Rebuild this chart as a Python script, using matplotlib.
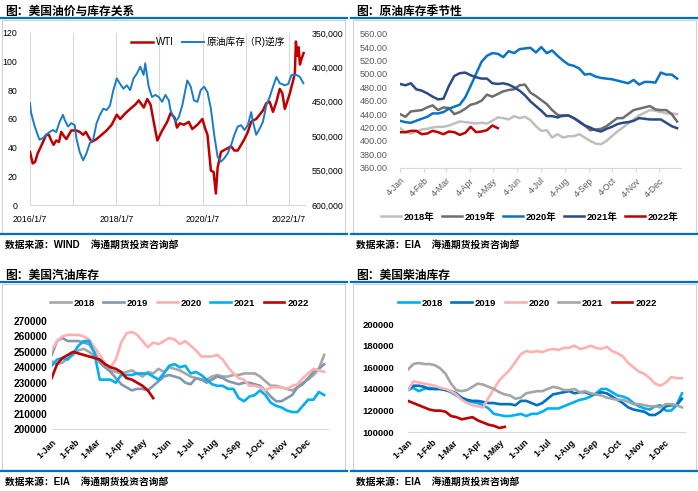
import matplotlib
matplotlib.use("Agg")
import matplotlib.pyplot as plt
from matplotlib.lines import Line2D
from matplotlib.patches import Rectangle
import numpy as np
import pandas as pd

plt.rcParams['font.family'] = ['Liberation Sans', 'Noto Sans CJK SC']
plt.rcParams['axes.unicode_minus'] = False

# ---------------- data ----------------
# 图1: WTI (美元/桶) 与 原油库存 (千桶)
wti_dates = ['2016-01-07', '2016-01-30', '2016-02-19', '2016-03-12', '2016-04-10', '2016-05-23',
             '2016-06-15', '2016-07-05', '2016-07-25', '2016-08-16', '2016-09-08', '2016-09-28',
             '2016-10-21', '2016-11-10', '2016-12-22', '2017-02-03', '2017-03-03', '2017-04-01',
             '2017-04-24', '2017-05-14', '2017-06-12', '2017-07-24', '2017-09-05', '2017-10-17',
             '2017-11-29', '2018-01-11', '2018-02-09', '2018-03-25', '2018-05-04', '2018-06-16',
             '2018-07-16', '2018-08-28', '2018-09-26', '2018-10-24', '2018-11-22', '2018-12-20',
             '2019-01-31', '2019-03-14', '2019-04-11', '2019-05-15', '2019-06-05', '2019-06-28',
             '2019-08-02', '2019-09-13', '2019-10-12', '2019-11-25', '2020-01-06', '2020-01-27',
             '2020-02-18', '2020-03-18', '2020-04-10', '2020-04-29', '2020-05-14', '2020-06-11',
             '2020-07-24', '2020-09-05', '2020-10-03', '2020-10-31', '2020-11-29', '2020-12-27',
             '2021-01-25', '2021-02-22', '2021-03-09', '2021-04-06', '2021-05-05', '2021-06-02',
             '2021-06-30', '2021-07-29', '2021-08-26', '2021-09-24', '2021-10-22', '2021-11-13',
             '2021-12-04', '2021-12-24', '2022-01-16', '2022-02-13', '2022-02-27', '2022-03-08',
             '2022-03-20', '2022-03-31', '2022-04-11', '2022-04-25', '2022-05-12']
wti = [37, 29, 30, 36, 41, 49, 49, 45, 42, 45, 44, 51, 48, 46, 52, 52, 51, 49, 51, 48, 44, 46,
       49, 52, 56, 63, 60, 64, 67, 70, 73, 68, 74, 70, 57, 45, 52, 58, 64, 61, 54, 57, 56, 58,
       53, 56, 60, 54, 49, 24, 23, 8, 26, 37, 39, 41, 38, 38, 42, 46, 51, 58, 59, 60, 63, 66,
       71, 72, 65, 72, 81, 78, 67, 72, 78, 87, 92, 114, 104, 110, 98, 102, 106]

inv_dates = ['2016-01-07', '2016-01-15', '2016-02-13', '2016-03-12', '2016-03-27', '2016-04-24',
             '2016-05-23', '2016-06-20', '2016-07-19', '2016-08-16', '2016-09-14', '2016-10-12',
             '2016-10-26', '2016-11-24', '2016-12-22', '2017-01-20', '2017-02-03', '2017-03-03',
             '2017-04-01', '2017-04-29', '2017-05-28', '2017-06-25', '2017-07-24', '2017-08-21',
             '2017-09-19', '2017-10-17', '2017-11-15', '2017-12-13', '2018-01-11', '2018-02-08',
             '2018-03-08', '2018-04-06', '2018-05-04', '2018-06-02', '2018-06-30', '2018-07-29',
             '2018-08-26', '2018-09-09', '2018-10-08', '2018-11-05', '2018-12-04', '2019-01-01',
             '2019-01-30', '2019-02-27', '2019-03-28', '2019-04-11', '2019-05-24', '2019-06-21',
             '2019-07-20', '2019-08-31', '2019-09-29', '2019-10-27', '2019-11-25', '2019-12-23',
             '2020-01-21', '2020-02-18', '2020-03-18', '2020-04-15', '2020-05-14', '2020-06-11',
             '2020-07-10', '2020-08-07', '2020-09-05', '2020-10-03', '2020-10-31', '2020-11-29',
             '2020-12-27', '2021-01-25', '2021-02-22', '2021-03-09', '2021-04-06', '2021-05-05',
             '2021-06-02', '2021-06-30', '2021-07-29', '2021-08-26', '2021-09-24', '2021-10-22',
             '2021-12-04', '2022-01-02', '2022-01-30', '2022-03-14', '2022-04-11', '2022-05-10']
inv_k = [452, 465, 484, 498, 505, 503, 498, 494, 491, 494, 479, 469, 476, 486, 481, 484, 503,
         523, 535, 525, 510, 505, 481, 469, 460, 462, 455, 433, 416, 424, 431, 426, 433, 416,
         409, 399, 411, 394, 428, 443, 440, 443, 450, 440, 448, 462, 479, 472, 455, 419, 428,
         448, 450, 433, 428, 436, 460, 498, 530, 537, 532, 525, 513, 498, 486, 484, 491, 484,
         465, 479, 498, 489, 479, 455, 443, 428, 414, 423, 426, 424, 411, 411, 414, 423]

# 图2: 原油库存季节性 (百万桶), 每周一个点, 从 1月4日 起
crude_labels = ['2018年', '2019年', '2020年', '2021年', '2022年']
crude_2018 = [419, 413, 411, 414, 417, 418, 420, 421, 421, 423, 426, 429, 428, 427, 426, 427, 426,
              430, 435, 434, 432, 437, 434, 436, 431, 422, 415, 416, 405, 410, 405, 407, 407, 410,
              405, 400, 396, 395, 400, 407, 414, 420, 426, 432, 438, 442, 446, 445, 443, 441, 441, 440]
crude_2019 = [440, 436, 444, 445, 446, 450, 453, 446, 450, 449, 440, 443, 448, 454, 456, 460, 469,
              466, 470, 474, 476, 477, 483, 484, 472, 467, 461, 455, 446, 439, 437, 438, 434, 428,
              423, 416, 417, 418, 422, 428, 434, 434, 440, 446, 448, 450, 452, 447, 446, 446, 440, 429]
crude_2020 = [430, 428, 427, 430, 433, 436, 441, 441, 443, 448, 451, 454, 465, 482, 500, 518, 527,
              531, 530, 525, 534, 531, 537, 538, 539, 532, 540, 531, 535, 527, 520, 514, 512, 508,
              499, 500, 496, 494, 493, 492, 490, 488, 486, 491, 484, 488, 488, 487, 502, 499, 499, 493]
crude_2021 = [485, 483, 486, 477, 475, 471, 466, 462, 463, 482, 497, 501, 502, 498, 495, 493, 493,
              486, 485, 486, 484, 480, 475, 468, 459, 452, 445, 437, 437, 435, 438, 438, 434, 429,
              423, 420, 416, 414, 418, 421, 425, 427, 428, 430, 434, 433, 432, 432, 432, 427, 422, 419]
crude_2022 = [413, 413, 415, 415, 410, 411, 415, 413, 410, 414, 413, 409, 412, 421, 413, 414, 416,
              423, 419]
crude_ticks = ['4-Jan', '4-Feb', '4-Mar', '4-Apr', '4-May', '4-Jun', '4-Jul', '4-Aug', '4-Sep',
               '4-Oct', '4-Nov', '4-Dec']

# 图3: 美国汽油库存 (千桶), 每周一个点, 从 1月1日 起
gas_labels = ['2018', '2019', '2020', '2021', '2022']
gas_2018 = [244, 242, 243, 246, 248, 251, 252, 250, 247, 244, 240, 238, 237, 236, 237, 238, 236,
            234, 237, 236, 239, 237, 240, 239, 238, 236, 234, 233, 232, 232, 234, 235, 234, 234,
            235, 235, 236, 236, 236, 234, 231, 228, 228, 227, 226, 225, 227, 230, 232, 235, 239, 248]
gas_2019 = [248, 257, 259, 257, 257, 257, 256, 255, 250, 243, 240, 237, 233, 229, 227, 225, 226,
            226, 225, 228, 231, 234, 235, 234, 233, 230, 229, 233, 232, 230, 232, 234, 233, 231,
            230, 229, 230, 230, 229, 228, 225, 221, 218, 218, 220, 222, 227, 229, 233, 237, 239, 242]
gas_2020 = [251, 257, 260, 261, 261, 261, 260, 258, 253, 248, 242, 240, 245, 256, 262, 263, 261,
            257, 253, 256, 255, 257, 259, 258, 255, 257, 254, 251, 247, 247, 247, 248, 245, 240,
            236, 233, 232, 228, 228, 227, 225, 227, 227, 227, 226, 228, 229, 233, 236, 239, 238, 237]
gas_2021 = [241, 245, 246, 245, 249, 254, 257, 257, 249, 232, 232, 232, 230, 235, 235, 235, 236,
            236, 236, 234, 232, 236, 241, 242, 240, 241, 236, 237, 235, 232, 229, 228, 228, 226,
            226, 220, 218, 221, 222, 225, 222, 217, 215, 214, 212, 211, 211, 215, 219, 219, 224, 222]
gas_2022 = [233, 242, 246, 248, 250, 249, 248, 247, 246, 245, 242, 240, 239, 237, 233, 232, 230,
            228, 225, 220]

# 图4: 美国柴油库存 (千桶)
dsl_labels = ['2018', '2019', '2020', '2021', '2022']
dsl_2018 = [139, 141, 138, 140, 141, 140, 140, 139, 137, 134, 131, 129, 128, 127, 125, 122, 117,
            116, 115, 115, 116, 117, 115, 117, 117, 119, 122, 122, 122, 124, 126, 128, 130, 131,
            133, 136, 140, 140, 137, 134, 133, 131, 127, 124, 122, 121, 124, 125, 120, 120, 125, 136]
dsl_2019 = [140, 143, 143, 142, 140, 140, 140, 139, 138, 136, 132, 130, 129, 129, 128, 127, 127,
            126, 126, 126, 125, 129, 129, 127, 125, 127, 131, 135, 136, 137, 138, 136, 137, 137,
            135, 135, 137, 136, 133, 130, 127, 123, 121, 120, 119, 116, 116, 119, 124, 125, 125, 131]
dsl_2020 = [139, 147, 146, 145, 144, 143, 141, 140, 138, 135, 130, 127, 125, 124, 123, 132, 140,
            148, 153, 158, 165, 172, 175, 174, 175, 174, 176, 177, 176, 178, 178, 180, 177, 178,
            180, 178, 177, 179, 175, 173, 170, 164, 160, 156, 154, 150, 145, 143, 146, 151, 150, 150]
dsl_2021 = [158, 163, 164, 163, 163, 162, 159, 154, 145, 139, 138, 139, 142, 145, 144, 142, 140,
            137, 135, 134, 131, 132, 136, 137, 138, 138, 140, 142, 141, 139, 139, 140, 137, 138,
            136, 135, 134, 132, 131, 130, 130, 128, 126, 126, 125, 124, 124, 123, 126, 126, 125, 123]
dsl_2022 = [129, 127, 125, 123, 121, 120, 120, 119, 115, 114, 112, 113, 114, 111, 109, 107, 106,
            104, 105]
month_ticks = ['1-Jan', '1-Feb', '1-Mar', '1-Apr', '1-May', '1-Jun', '1-Jul', '1-Aug', '1-Sep',
               '1-Oct', '1-Nov', '1-Dec']
month_days = [0, 31, 59, 90, 120, 151, 181, 212, 243, 273, 304, 334]

# ---------------- layout helpers (pixels) ----------------
W, H = 698, 491
fig = plt.figure(figsize=(W / 100, H / 100), dpi=100)


def fx(px):
    return px / W


def fy(py):
    return 1 - py / H


def box(l, t, r, b):
    return [fx(l), fy(b), fx(r) - fx(l), fy(t) - fy(b)]


BLUE = '#0070C0'


def frame(x0, x1, ytitle, yrule, ybot, ysrc, title, src):
    fig.text(fx(x0 + 5), fy(ytitle), title, fontsize=8.5, weight='bold', va='center', ha='left')
    fig.add_artist(Rectangle((fx(x0 + 2), fy(ybot - 1)), fx(x1 - 2) - fx(x0 + 2),
                             fy(yrule + 2) - fy(ybot - 1), fill=False, ec='#D0D0D0', lw=0.8))
    fig.add_artist(Line2D([fx(x0), fx(x1)], [fy(yrule)] * 2, color=BLUE, lw=1.6))
    fig.add_artist(Line2D([fx(x0), fx(x1)], [fy(ybot)] * 2, color=BLUE, lw=1.6))
    fig.text(fx(x0 + 5), fy(ysrc), src, fontsize=7, weight='bold', va='center', ha='left')


frame(0, 347, 12, 18, 234, 245, '图：美国油价与库存关系', '数据来源：WIND    海通期货投资咨询部')
frame(351, 698, 12, 18, 234, 245, '图：原油库存季节性', '数据来源：EIA    海通期货投资咨询部')
frame(0, 347, 276, 282, 471, 482, '图：美国汽油库存', '数据来源：EIA    海通期货投资咨询部')
frame(351, 698, 276, 282, 471, 482, '图：美国柴油库存', '数据来源：EIA    海通期货投资咨询部')

# ---------------- panel 1 ----------------
ax1 = fig.add_axes(box(30, 33, 305, 205))
ax1.plot(pd.to_datetime(wti_dates), wti, color='#C00000', lw=1.8, label='WTI')
ax1.set_ylim(0, 120)
ax1.set_yticks(range(0, 121, 20))
ax1.set_xlim(pd.Timestamp('2016-01-07'), pd.Timestamp('2022-05-24'))
yrs = pd.to_datetime([f'{y}-01-07' for y in range(2016, 2023)])
ax1.set_xticks(yrs)
ax1.set_xticklabels([f'{d.year}/1/7' if d.year % 2 == 0 else '' for d in yrs])
ax1.grid(axis='x', color='#D9D9D9', lw=0.8)
ax1.tick_params(length=0, labelsize=6.3)
ax1.tick_params(axis='y', pad=9)
ax1.tick_params(axis='x', pad=7)

ax2 = ax1.twinx()
ax2.plot(pd.to_datetime(inv_dates), np.array(inv_k) * 1000, color='#1A7CC9', lw=1.4,
         label='原油库存（R)逆序')
ax2.set_ylim(600000, 350000)
ax2.set_yticks(range(350000, 600001, 50000))
ax2.set_yticklabels([f'{v:,}' for v in range(350000, 600001, 50000)])
ax2.tick_params(length=0, labelsize=6.3, pad=5)
for a in (ax1, ax2):
    for s in ('top', 'left', 'right'):
        a.spines[s].set_visible(False)
    a.spines['bottom'].set_color('#D9D9D9')
h1, l1 = ax1.get_legend_handles_labels()
h2, l2 = ax2.get_legend_handles_labels()
ax2.legend(h1 + h2, l1 + l2, loc='center left', bbox_to_anchor=(fx(131), fy(42)),
           bbox_transform=fig.transFigure, ncol=2, frameon=False, fontsize=7,
           handlelength=2.3, handletextpad=0.3, columnspacing=0.8, borderpad=0, borderaxespad=0)


# ---------------- seasonal panels ----------------
def seasonal(rect, series, labels, colors, ylim, ystep, yfmt, xticklabels, xend,
             leg_xy, ycolor, ysize, yweight, xweight, xcolor, lw, leg_kw):
    ax = fig.add_axes(rect)
    for vals, lab, c in zip(series, labels, colors):
        ax.plot(np.arange(len(vals)) * 7, vals, color=c, lw=lw, label=lab)
    ax.set_ylim(*ylim)
    ax.set_yticks(np.arange(ylim[0], ylim[1] + 1, ystep))
    ax.set_yticklabels([yfmt(v) for v in np.arange(ylim[0], ylim[1] + 1, ystep)],
                       fontsize=ysize, color=ycolor, weight=yweight)
    ax.set_xlim(0, xend)
    ax.set_xticks(month_days)
    ax.set_xticklabels(xticklabels, rotation=45, ha='right', va='top', rotation_mode='anchor',
                       fontsize=6.3, color=xcolor, weight=xweight)
    for s in ('top', 'left', 'right'):
        ax.spines[s].set_visible(False)
    ax.spines['bottom'].set_color('#D9D9D9')
    ax.legend(loc='center left', bbox_to_anchor=leg_xy, bbox_transform=fig.transFigure,
              ncol=5, frameon=False, borderpad=0, borderaxespad=0,
              prop={'size': 6.8, 'weight': 'bold'}, **leg_kw)
    return ax


axc = seasonal(box(400, 33.7, 681, 167.7),
               [crude_2018, crude_2019, crude_2020, crude_2021, crude_2022], crude_labels,
               ['#BFBFBF', '#6E6E6E', '#0A74C4', '#2C4A85', '#C00000'],
               (360, 560), 20, lambda v: f'{v:.2f}', crude_ticks, 362, (fx(381), fy(217)),
               '#595959', 6.6, 'normal', 'normal', '#595959', 1.8,
               dict(handlelength=2.1, handletextpad=0.25, columnspacing=0.85))
axc.tick_params(axis='y', length=0, pad=9)
axc.tick_params(axis='x', length=3, color='#D9D9D9', pad=3)

axg = seasonal(box(51.7, 321, 328, 429),
               [np.array(s) * 1000 for s in (gas_2018, gas_2019, gas_2020, gas_2021, gas_2022)],
               gas_labels, ['#A6A6A6', '#8497B0', '#FFB1B1', '#00B0F0', '#C00000'],
               (200000, 270000), 10000, lambda v: f'{v:.0f}', month_ticks, 362, (fx(50), fy(303)),
               'black', 7.3, 'bold', 'bold', 'black', 1.9,
               dict(handlelength=2.2, handletextpad=0.3, columnspacing=0.9))
axg.tick_params(axis='y', length=0, pad=3)
axg.tick_params(axis='x', length=0, pad=6)

axd = seasonal(box(408, 324, 685, 432.3),
               [np.array(s) * 1000 for s in (dsl_2018, dsl_2019, dsl_2020, dsl_2021, dsl_2022)],
               dsl_labels, ['#00B0F0', '#0070C0', '#FFB1B1', '#A6A6A6', '#C00000'],
               (100000, 200000), 20000, lambda v: f'{v:.0f}', month_ticks, 361, (fx(398), fy(303)),
               'black', 6.8, 'bold', 'bold', 'black', 1.9,
               dict(handlelength=2.2, handletextpad=0.3, columnspacing=0.9))
axd.tick_params(axis='y', length=0, pad=10)
axd.tick_params(axis='x', length=0, pad=4)

fig.savefig('out.png', dpi=100)
